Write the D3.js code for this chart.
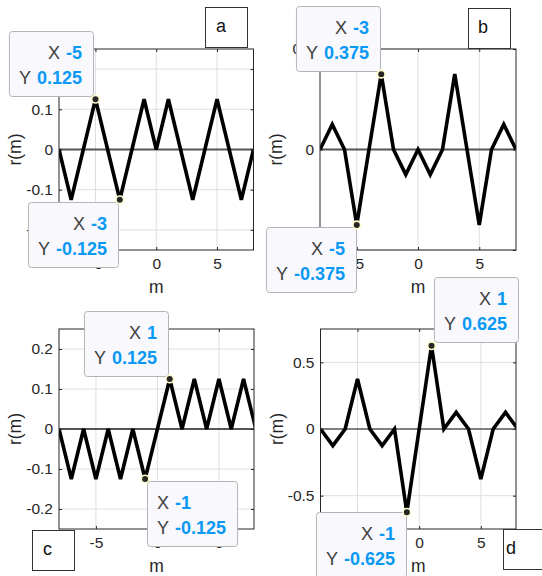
<!DOCTYPE html>
<html>
<head>
<meta charset="utf-8">
<script src="https://cdn.jsdelivr.net/npm/d3@7"></script>
<style>
  body { margin: 0; background: #fff; }
  svg { display: block; font-family: "Liberation Sans", Arial, sans-serif; }
</style>
</head>
<body>
<script>
const width = 542;
const height = 576;

// lag values and the four correlation sequences
const lags = [-8, -7, -6, -5, -4, -3, -2, -1, 0, 1, 2, 3, 4, 5, 6, 7, 8];
const rA = [0, -0.125, 0, 0.125, 0, -0.125, 0, 0.125, 0, 0.125, 0, -0.125, 0, 0.125, 0, -0.125, 0];
const rB = [0, 0.125, 0, -0.375, 0, 0.375, 0, -0.125, 0, -0.125, 0, 0.375, 0, -0.375, 0, 0.125, 0];
const rC = [0, -0.125, 0, -0.125, 0, -0.125, 0, -0.125, 0, 0.125, 0, 0.125, 0, 0.125, 0, 0.125, 0];
const rD = [0, -0.125, 0, 0.375, 0, -0.125, 0, -0.625, 0, 0.625, 0, 0.125, 0, -0.375, 0, 0.125, 0];

// tick values
const xTicks = [-5, 0, 5];
const yTicksSmall = [-0.2, -0.1, 0, 0.1, 0.2];
const yTicksB = [-0.5, 0, 0.5];
const yTicksD = [-0.5, 0, 0.5];

// which lags carry a data tip
const tipsA = [-5, -3];
const tipsB = [-3, -5];
const tipsC = [1, -1];
const tipsD = [1, -1];

const panels = [
  { name: "a", r: rA, xDom: [-8, 8], yDom: [-0.25, 0.25], yTicks: yTicksSmall,
    box: [59, 253.5, 49, 250], zero: { c: "#555", w: 2 },
    tag: { x: 205, y: 7, dx: 11 }, tips: tipsA,
    tipPos: [{ right: 93, top: 31 }, { right: 118, top: 202 }] },
  { name: "b", r: rB, xDom: [-8, 8], yDom: [-0.5, 0.5], yTicks: yTicksB,
    box: [320, 516, 49, 250], zero: { c: "#555", w: 2 },
    tag: { x: 468, y: 8, dx: 10 }, tips: tipsB,
    tipPos: [{ right: 380, top: 6 }, { right: 356, top: 227 }] },
  { name: "c", r: rC, xDom: [-8, 7.85], yDom: [-0.25, 0.25], yTicks: yTicksSmall,
    box: [59, 254, 329, 529], zero: { c: "#555", w: 2 },
    tag: { x: 32, y: 530, dx: 11 }, tips: tipsC,
    tipPos: [{ right: 168, top: 311 }, { left: 147, top: 481 }] },
  { name: "d", r: rD, xDom: [-8, 7.85], yDom: [-0.75, 0.75], yTicks: yTicksD,
    box: [320.5, 516, 329, 529], zero: { c: "#111", w: 1.2 },
    tag: { x: 503, y: 529, dx: 3 }, tips: tipsD,
    tipPos: [{ right: 518, top: 277 }, { right: 406, top: 512 }] }
];

const svg = d3.select("body").append("svg")
    .attr("width", width)
    .attr("height", height);

const axisColor = "#262626";
const tipLayer = [];

panels.forEach((p, i) => {
  const [left, right, top, bottom] = p.box;
  const x = d3.scaleLinear().domain(p.xDom).range([left, right]);
  const y = d3.scaleLinear().domain(p.yDom).range([bottom, top]);
  const g = svg.append("g");

  g.append("rect")
      .attr("x", left).attr("y", top)
      .attr("width", right - left).attr("height", bottom - top)
      .attr("fill", "#fff");

  // grid
  g.selectAll(".gx").data(xTicks).join("line")
      .attr("x1", d => x(d)).attr("x2", d => x(d))
      .attr("y1", top).attr("y2", bottom)
      .attr("stroke", "#dfdfdf").attr("stroke-width", 1);
  g.selectAll(".gy").data(p.yTicks).join("line")
      .attr("x1", left).attr("x2", right)
      .attr("y1", d => y(d)).attr("y2", d => y(d))
      .attr("stroke", "#dfdfdf").attr("stroke-width", 1);

  g.append("clipPath").attr("id", "clip" + i)
    .append("rect")
      .attr("x", left).attr("y", top)
      .attr("width", right - left).attr("height", bottom - top);

  // zero line
  g.append("line")
      .attr("x1", left).attr("x2", right)
      .attr("y1", y(0)).attr("y2", y(0))
      .attr("stroke", p.zero.c).attr("stroke-width", p.zero.w);

  const line = d3.line().x((d, j) => x(lags[j])).y(d => y(d));
  g.append("path")
      .datum(p.r)
      .attr("clip-path", `url(#clip${i})`)
      .attr("d", line)
      .attr("fill", "none")
      .attr("stroke", "#000")
      .attr("stroke-width", 3.6)
      .attr("stroke-linejoin", "miter");

  // axes
  const fmt = d => String(d);
  const xa = g.append("g").attr("transform", `translate(0,${bottom})`)
      .call(d3.axisBottom(x).tickValues(xTicks).tickSize(-3).tickPadding(8).tickFormat(fmt));
  const ya = g.append("g").attr("transform", `translate(${left},0)`)
      .call(d3.axisLeft(y).tickValues(p.yTicks.filter(t => t >= p.yDom[0] && t <= p.yDom[1]))
        .tickSize(-3).tickPadding(6).tickFormat(fmt));
  const xt = g.append("g").attr("transform", `translate(0,${top})`)
      .call(d3.axisTop(x).tickValues(xTicks).tickSize(-3).tickFormat(""));
  const yr = g.append("g").attr("transform", `translate(${right},0)`)
      .call(d3.axisRight(y).tickValues(p.yTicks).tickSize(-3).tickFormat(""));
  [xa, ya, xt, yr].forEach(a => {
    a.select(".domain").remove();
    a.selectAll("line").attr("stroke", axisColor);
    a.selectAll("text").attr("fill", axisColor).style("font-size", "15.5px")
        .style("font-family", "'Liberation Sans', Arial, sans-serif");
  });

  g.append("rect")
      .attr("x", left).attr("y", top)
      .attr("width", right - left).attr("height", bottom - top)
      .attr("fill", "none").attr("stroke", axisColor).attr("stroke-width", 1);

  g.append("text")
      .attr("x", (left + right) / 2).attr("y", bottom + 43)
      .attr("text-anchor", "middle")
      .attr("fill", axisColor)
      .style("font-size", "17.5px")
      .text("m");
  g.append("text")
      .attr("transform", `translate(${left - 38},${(top + bottom) / 2}) rotate(-90)`)
      .attr("text-anchor", "middle")
      .attr("fill", axisColor)
      .style("font-size", "17.5px")
      .text("r(m)");

  p.tips.forEach((lag, k) => {
    const j = lags.indexOf(lag);
    tipLayer.push({ px: x(lag), py: y(p.r[j]), lag: lag, val: p.r[j], pos: p.tipPos[k] });
  });
  tipLayer.push({ tag: p.name, pos: p.tag });
});

// panel tags and data tips on top
const overlay = svg.append("g");
tipLayer.forEach(t => {
  if (t.tag) {
    overlay.append("rect")
        .attr("x", t.pos.x + 0.5).attr("y", t.pos.y + 0.5)
        .attr("width", 42).attr("height", 40)
        .attr("fill", "#fff").attr("stroke", "#333").attr("stroke-width", 1);
    overlay.append("text")
        .attr("x", t.pos.x + t.pos.dx).attr("y", t.pos.y + 25)
        .attr("fill", "#111")
        .style("font-size", "18px")
        .text(t.tag);
    return;
  }
  const g = overlay.append("g");
  const box = g.append("rect");
  const anchor = t.pos.left !== undefined ? "start" : "end";
  const rows = [["X", t.lag], ["Y", t.val]].map((row, k) => {
    const tx = g.append("text")
        .attr("x", 0)
        .attr("y", t.pos.top + 28 + k * 25)
        .attr("text-anchor", anchor)
        .style("font-size", "18px");
    tx.append("tspan").attr("fill", "#404040").text(row[0]);
    tx.append("tspan").attr("dx", 6).attr("fill", "#0a98f5").attr("font-weight", "bold").text(String(row[1]));
    return tx;
  });
  const w = d3.max(rows, r => r.node().getBBox().width) + 21;
  const bx = anchor === "start" ? t.pos.left : t.pos.right - w;
  rows.forEach(r => r.attr("x", anchor === "start" ? bx + 10 : bx + w - 11));
  box.attr("x", bx + 0.5).attr("y", t.pos.top + 0.5)
      .attr("width", w).attr("height", 65)
      .attr("rx", 3)
      .attr("fill", "#f8f8fd").attr("stroke", "#b4b4b4").attr("stroke-width", 1);
  g.append("circle")
      .attr("cx", t.px).attr("cy", t.py).attr("r", 3.8)
      .attr("fill", "#262626").attr("stroke", "#fffccc").attr("stroke-width", 1.6);
});
</script>
</body>
</html>
